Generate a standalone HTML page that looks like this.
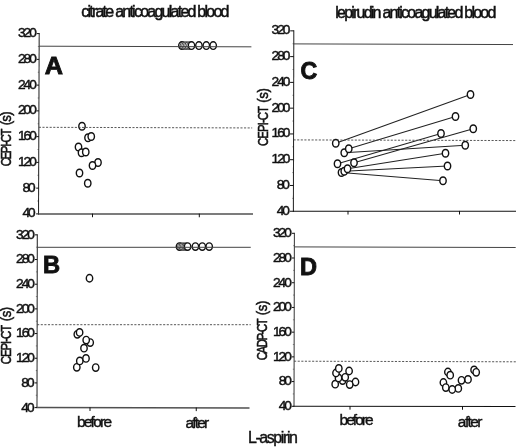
<!DOCTYPE html>
<html><head><meta charset="utf-8"><title>Figure</title>
<style>
html,body{margin:0;padding:0;background:#fff;}
body{width:520px;height:447px;overflow:hidden;font-family:"Liberation Sans",sans-serif;}
svg{display:block;font-family:"Liberation Sans",sans-serif;filter:blur(0.35px);}
text{white-space:pre;}
</style></head><body>
<svg width="520" height="447" viewBox="0 0 520 447">
<rect width="520" height="447" fill="#fff"/>
<ellipse cx="82.00" cy="126.25" rx="3.2" ry="3.8" fill="#fff" stroke="#111" stroke-width="1.4"/>
<ellipse cx="88.00" cy="137.75" rx="3.2" ry="3.8" fill="#fff" stroke="#111" stroke-width="1.4"/>
<ellipse cx="91.25" cy="136.50" rx="3.2" ry="3.8" fill="#fff" stroke="#111" stroke-width="1.4"/>
<ellipse cx="78.50" cy="147.00" rx="3.2" ry="3.8" fill="#fff" stroke="#111" stroke-width="1.4"/>
<ellipse cx="81.50" cy="152.75" rx="3.2" ry="3.8" fill="#fff" stroke="#111" stroke-width="1.4"/>
<ellipse cx="85.75" cy="152.00" rx="3.2" ry="3.8" fill="#fff" stroke="#111" stroke-width="1.4"/>
<ellipse cx="98.00" cy="162.50" rx="3.2" ry="3.8" fill="#fff" stroke="#111" stroke-width="1.4"/>
<ellipse cx="92.50" cy="165.50" rx="3.2" ry="3.8" fill="#fff" stroke="#111" stroke-width="1.4"/>
<ellipse cx="79.50" cy="173.00" rx="3.2" ry="3.8" fill="#fff" stroke="#111" stroke-width="1.4"/>
<ellipse cx="87.75" cy="183.25" rx="3.2" ry="3.8" fill="#fff" stroke="#111" stroke-width="1.4"/>
<ellipse cx="181.90" cy="45.60" rx="3.2" ry="3.8" fill="#fff" stroke="#111" stroke-width="1.4"/>
<ellipse cx="183.50" cy="45.60" rx="3.2" ry="3.8" fill="#fff" stroke="#111" stroke-width="0.8"/>
<ellipse cx="185.00" cy="45.60" rx="3.2" ry="3.8" fill="#fff" stroke="#111" stroke-width="0.8"/>
<ellipse cx="186.60" cy="45.60" rx="3.2" ry="3.8" fill="#fff" stroke="#111" stroke-width="0.8"/>
<ellipse cx="188.10" cy="45.60" rx="3.2" ry="3.8" fill="#fff" stroke="#111" stroke-width="0.8"/>
<ellipse cx="189.80" cy="45.60" rx="3.2" ry="3.8" fill="#fff" stroke="#111" stroke-width="0.8"/>
<ellipse cx="191.50" cy="45.60" rx="3.2" ry="3.8" fill="#fff" stroke="#111" stroke-width="1.4"/>
<ellipse cx="198.90" cy="45.60" rx="3.2" ry="3.8" fill="#fff" stroke="#111" stroke-width="1.4"/>
<ellipse cx="206.30" cy="45.60" rx="3.2" ry="3.8" fill="#fff" stroke="#111" stroke-width="1.4"/>
<ellipse cx="213.20" cy="45.60" rx="3.2" ry="3.8" fill="#fff" stroke="#111" stroke-width="1.4"/>
<ellipse cx="95.70" cy="367.60" rx="3.2" ry="3.72" fill="#fff" stroke="#111" stroke-width="1.4"/>
<ellipse cx="76.80" cy="367.30" rx="3.2" ry="3.72" fill="#fff" stroke="#111" stroke-width="1.4"/>
<ellipse cx="79.80" cy="360.90" rx="3.2" ry="3.72" fill="#fff" stroke="#111" stroke-width="1.4"/>
<ellipse cx="86.00" cy="358.40" rx="3.2" ry="3.72" fill="#fff" stroke="#111" stroke-width="1.4"/>
<ellipse cx="84.00" cy="348.20" rx="3.2" ry="3.72" fill="#fff" stroke="#111" stroke-width="1.4"/>
<ellipse cx="90.20" cy="342.60" rx="3.2" ry="3.72" fill="#fff" stroke="#111" stroke-width="1.4"/>
<ellipse cx="86.20" cy="340.10" rx="3.2" ry="3.72" fill="#fff" stroke="#111" stroke-width="1.4"/>
<ellipse cx="77.30" cy="334.30" rx="3.2" ry="3.72" fill="#fff" stroke="#111" stroke-width="1.4"/>
<ellipse cx="79.60" cy="332.40" rx="3.2" ry="3.72" fill="#fff" stroke="#111" stroke-width="1.4"/>
<ellipse cx="89.50" cy="278.25" rx="3.2" ry="3.72" fill="#fff" stroke="#111" stroke-width="1.4"/>
<ellipse cx="179.50" cy="246.60" rx="3.2" ry="3.72" fill="#fff" stroke="#111" stroke-width="1.4"/>
<ellipse cx="180.80" cy="246.60" rx="3.2" ry="3.72" fill="#fff" stroke="#111" stroke-width="0.75"/>
<ellipse cx="182.20" cy="246.60" rx="3.2" ry="3.72" fill="#fff" stroke="#111" stroke-width="0.75"/>
<ellipse cx="183.60" cy="246.60" rx="3.2" ry="3.72" fill="#fff" stroke="#111" stroke-width="0.75"/>
<ellipse cx="185.00" cy="246.60" rx="3.2" ry="3.72" fill="#fff" stroke="#111" stroke-width="0.75"/>
<ellipse cx="186.30" cy="246.60" rx="3.2" ry="3.72" fill="#fff" stroke="#111" stroke-width="0.75"/>
<ellipse cx="187.60" cy="246.60" rx="3.2" ry="3.72" fill="#fff" stroke="#111" stroke-width="1.4"/>
<ellipse cx="195.40" cy="246.60" rx="3.2" ry="3.72" fill="#fff" stroke="#111" stroke-width="1.4"/>
<ellipse cx="202.30" cy="246.60" rx="3.2" ry="3.72" fill="#fff" stroke="#111" stroke-width="1.4"/>
<ellipse cx="209.20" cy="246.60" rx="3.2" ry="3.72" fill="#fff" stroke="#111" stroke-width="1.4"/>
<line x1="335.75" y1="143.25" x2="470.50" y2="94.50" stroke="#222" stroke-width="1.05"/>
<line x1="348.75" y1="148.75" x2="455.50" y2="116.50" stroke="#222" stroke-width="1.05"/>
<line x1="344.25" y1="152.75" x2="465.25" y2="145.25" stroke="#222" stroke-width="1.05"/>
<line x1="337.50" y1="163.75" x2="441.00" y2="133.50" stroke="#222" stroke-width="1.05"/>
<line x1="354.00" y1="162.75" x2="473.25" y2="128.75" stroke="#222" stroke-width="1.05"/>
<line x1="347.50" y1="168.75" x2="445.50" y2="153.25" stroke="#222" stroke-width="1.05"/>
<line x1="344.25" y1="171.25" x2="447.50" y2="166.00" stroke="#222" stroke-width="1.05"/>
<line x1="341.50" y1="172.50" x2="443.00" y2="180.75" stroke="#222" stroke-width="1.05"/>
<ellipse cx="341.50" cy="172.50" rx="3.2" ry="3.8" fill="#fff" stroke="#111" stroke-width="1.4"/>
<ellipse cx="344.25" cy="171.25" rx="3.2" ry="3.8" fill="#fff" stroke="#111" stroke-width="1.4"/>
<ellipse cx="347.50" cy="168.75" rx="3.2" ry="3.8" fill="#fff" stroke="#111" stroke-width="1.4"/>
<ellipse cx="354.00" cy="162.75" rx="3.2" ry="3.8" fill="#fff" stroke="#111" stroke-width="1.4"/>
<ellipse cx="337.50" cy="163.75" rx="3.2" ry="3.8" fill="#fff" stroke="#111" stroke-width="1.4"/>
<ellipse cx="344.25" cy="152.75" rx="3.2" ry="3.8" fill="#fff" stroke="#111" stroke-width="1.4"/>
<ellipse cx="348.75" cy="148.75" rx="3.2" ry="3.8" fill="#fff" stroke="#111" stroke-width="1.4"/>
<ellipse cx="335.75" cy="143.25" rx="3.2" ry="3.8" fill="#fff" stroke="#111" stroke-width="1.4"/>
<ellipse cx="470.50" cy="94.50" rx="3.2" ry="3.8" fill="#fff" stroke="#111" stroke-width="1.4"/>
<ellipse cx="455.50" cy="116.50" rx="3.2" ry="3.8" fill="#fff" stroke="#111" stroke-width="1.4"/>
<ellipse cx="465.25" cy="145.25" rx="3.2" ry="3.8" fill="#fff" stroke="#111" stroke-width="1.4"/>
<ellipse cx="441.00" cy="133.50" rx="3.2" ry="3.8" fill="#fff" stroke="#111" stroke-width="1.4"/>
<ellipse cx="473.25" cy="128.75" rx="3.2" ry="3.8" fill="#fff" stroke="#111" stroke-width="1.4"/>
<ellipse cx="445.50" cy="153.25" rx="3.2" ry="3.8" fill="#fff" stroke="#111" stroke-width="1.4"/>
<ellipse cx="447.50" cy="166.00" rx="3.2" ry="3.8" fill="#fff" stroke="#111" stroke-width="1.4"/>
<ellipse cx="443.00" cy="180.75" rx="3.2" ry="3.8" fill="#fff" stroke="#111" stroke-width="1.4"/>
<ellipse cx="355.50" cy="382.00" rx="3.2" ry="3.72" fill="#fff" stroke="#111" stroke-width="1.4"/>
<ellipse cx="335.20" cy="384.20" rx="3.2" ry="3.72" fill="#fff" stroke="#111" stroke-width="1.4"/>
<ellipse cx="349.70" cy="384.60" rx="3.2" ry="3.72" fill="#fff" stroke="#111" stroke-width="1.4"/>
<ellipse cx="342.60" cy="380.60" rx="3.2" ry="3.72" fill="#fff" stroke="#111" stroke-width="1.4"/>
<ellipse cx="338.50" cy="377.90" rx="3.2" ry="3.72" fill="#fff" stroke="#111" stroke-width="1.4"/>
<ellipse cx="345.20" cy="377.30" rx="3.2" ry="3.72" fill="#fff" stroke="#111" stroke-width="1.4"/>
<ellipse cx="336.00" cy="373.00" rx="3.2" ry="3.72" fill="#fff" stroke="#111" stroke-width="1.4"/>
<ellipse cx="349.10" cy="371.00" rx="3.2" ry="3.72" fill="#fff" stroke="#111" stroke-width="1.4"/>
<ellipse cx="338.80" cy="368.40" rx="3.2" ry="3.72" fill="#fff" stroke="#111" stroke-width="1.4"/>
<ellipse cx="447.90" cy="372.00" rx="3.2" ry="3.72" fill="#fff" stroke="#111" stroke-width="1.4"/>
<ellipse cx="450.20" cy="375.20" rx="3.2" ry="3.72" fill="#fff" stroke="#111" stroke-width="1.4"/>
<ellipse cx="474.10" cy="369.90" rx="3.2" ry="3.72" fill="#fff" stroke="#111" stroke-width="1.4"/>
<ellipse cx="476.20" cy="372.30" rx="3.2" ry="3.72" fill="#fff" stroke="#111" stroke-width="1.4"/>
<ellipse cx="468.00" cy="379.40" rx="3.2" ry="3.72" fill="#fff" stroke="#111" stroke-width="1.4"/>
<ellipse cx="461.50" cy="380.30" rx="3.2" ry="3.72" fill="#fff" stroke="#111" stroke-width="1.4"/>
<ellipse cx="443.40" cy="382.50" rx="3.2" ry="3.72" fill="#fff" stroke="#111" stroke-width="1.4"/>
<ellipse cx="445.80" cy="387.60" rx="3.2" ry="3.72" fill="#fff" stroke="#111" stroke-width="1.4"/>
<ellipse cx="458.30" cy="388.40" rx="3.2" ry="3.72" fill="#fff" stroke="#111" stroke-width="1.4"/>
<ellipse cx="452.20" cy="389.50" rx="3.2" ry="3.72" fill="#fff" stroke="#111" stroke-width="1.4"/>
<line x1="39.20" y1="33.10" x2="38.50" y2="214.40" stroke="#2a2a2a" stroke-width="1.05"/>
<line x1="38.00" y1="213.90" x2="253.00" y2="214.00" stroke="#505050" stroke-width="1.5"/>
<line x1="36.10" y1="213.90" x2="38.50" y2="213.90" stroke="#111" stroke-width="1.0"/>
<g transform="translate(22.83 217.30) scale(1.0000 1)"><text x="-0.30" y="0" font-size="13.7" letter-spacing="-2.025" stroke="#111" stroke-width="0.45" stroke-linejoin="miter" fill="#111">40</text></g>
<line x1="36.20" y1="188.14" x2="38.60" y2="188.14" stroke="#111" stroke-width="1.0"/>
<g transform="translate(23.08 191.54) scale(1.0000 1)"><text x="-0.55" y="0" font-size="13.7" letter-spacing="-2.025" stroke="#111" stroke-width="0.45" stroke-linejoin="miter" fill="#111">80</text></g>
<line x1="36.30" y1="162.39" x2="38.70" y2="162.39" stroke="#111" stroke-width="1.0"/>
<g transform="translate(19.00 165.79) scale(1.0000 1)"><text x="-1.00" y="0" font-size="13.7" letter-spacing="-2.025" stroke="#111" stroke-width="0.45" stroke-linejoin="miter" fill="#111">120</text></g>
<line x1="36.40" y1="136.63" x2="38.80" y2="136.63" stroke="#111" stroke-width="1.0"/>
<g transform="translate(19.00 140.03) scale(1.0000 1)"><text x="-1.00" y="0" font-size="13.7" letter-spacing="-2.025" stroke="#111" stroke-width="0.45" stroke-linejoin="miter" fill="#111">160</text></g>
<line x1="36.50" y1="110.87" x2="38.90" y2="110.87" stroke="#111" stroke-width="1.0"/>
<g transform="translate(18.65 114.27) scale(1.0000 1)"><text x="-0.65" y="0" font-size="13.7" letter-spacing="-2.025" stroke="#111" stroke-width="0.45" stroke-linejoin="miter" fill="#111">200</text></g>
<line x1="36.60" y1="85.11" x2="39.00" y2="85.11" stroke="#111" stroke-width="1.0"/>
<g transform="translate(18.65 88.51) scale(1.0000 1)"><text x="-0.65" y="0" font-size="13.7" letter-spacing="-2.025" stroke="#111" stroke-width="0.45" stroke-linejoin="miter" fill="#111">240</text></g>
<line x1="36.70" y1="59.36" x2="39.10" y2="59.36" stroke="#111" stroke-width="1.0"/>
<g transform="translate(18.65 62.76) scale(1.0000 1)"><text x="-0.65" y="0" font-size="13.7" letter-spacing="-2.025" stroke="#111" stroke-width="0.45" stroke-linejoin="miter" fill="#111">280</text></g>
<line x1="36.80" y1="33.60" x2="39.20" y2="33.60" stroke="#111" stroke-width="1.0"/>
<g transform="translate(18.50 37.00) scale(1.0000 1)"><text x="-0.50" y="0" font-size="13.7" letter-spacing="-2.025" stroke="#111" stroke-width="0.45" stroke-linejoin="miter" fill="#111">320</text></g>
<line x1="37.25" y1="201.02" x2="38.55" y2="201.02" stroke="#111" stroke-width="0.8" stroke-opacity="0.5"/>
<line x1="37.35" y1="175.26" x2="38.65" y2="175.26" stroke="#111" stroke-width="0.8" stroke-opacity="0.5"/>
<line x1="37.45" y1="149.51" x2="38.75" y2="149.51" stroke="#111" stroke-width="0.8" stroke-opacity="0.5"/>
<line x1="37.55" y1="123.75" x2="38.85" y2="123.75" stroke="#111" stroke-width="0.8" stroke-opacity="0.5"/>
<line x1="37.65" y1="97.99" x2="38.95" y2="97.99" stroke="#111" stroke-width="0.8" stroke-opacity="0.5"/>
<line x1="37.75" y1="72.24" x2="39.05" y2="72.24" stroke="#111" stroke-width="0.8" stroke-opacity="0.5"/>
<line x1="37.85" y1="46.48" x2="39.15" y2="46.48" stroke="#111" stroke-width="0.8" stroke-opacity="0.5"/>
<line x1="92.50" y1="213.63" x2="92.50" y2="217.23" stroke="#111" stroke-width="1.0"/>
<line x1="199.30" y1="213.67" x2="199.30" y2="217.27" stroke="#111" stroke-width="1.0"/>
<line x1="39.15" y1="46.20" x2="251.40" y2="46.84" stroke="#444" stroke-width="1.0"/>
<line x1="38.84" y1="127.30" x2="252.20" y2="127.94" stroke="#444" stroke-width="0.9" stroke-dasharray="2.1 1.5"/>
<g transform="translate(45.45 74.25) scale(1.0180 1)"><text x="-0.60" y="0" font-size="24.8" letter-spacing="0.000" font-weight="bold" stroke="#111" stroke-width="0.9" stroke-linejoin="miter" fill="#111">A</text></g>
<g transform="translate(11.30 165.80) rotate(-90) scale(0.78 1)"><text x="-0.70" y="0" font-size="14.5" letter-spacing="-1.615" stroke="#111" stroke-width="0.55" fill="#111">CEPI-CT</text></g>
<g transform="translate(11.30 124.60) rotate(-90) scale(0.9 1)"><text x="-0.85" y="0" font-size="14.5" letter-spacing="-0.711" stroke="#111" stroke-width="0.55" fill="#111">(s)</text></g>
<line x1="37.30" y1="234.35" x2="37.00" y2="408.10" stroke="#2a2a2a" stroke-width="1.05"/>
<line x1="36.50" y1="407.60" x2="249.50" y2="407.90" stroke="#505050" stroke-width="1.5"/>
<line x1="34.60" y1="407.60" x2="37.00" y2="407.60" stroke="#111" stroke-width="1.0"/>
<g transform="translate(21.62 411.50) scale(1.0000 1)"><text x="-0.30" y="0" font-size="13.7" letter-spacing="-2.025" stroke="#111" stroke-width="0.45" stroke-linejoin="miter" fill="#111">40</text></g>
<line x1="34.64" y1="382.92" x2="37.04" y2="382.92" stroke="#111" stroke-width="1.0"/>
<g transform="translate(21.88 386.82) scale(1.0000 1)"><text x="-0.55" y="0" font-size="13.7" letter-spacing="-2.025" stroke="#111" stroke-width="0.45" stroke-linejoin="miter" fill="#111">80</text></g>
<line x1="34.69" y1="358.24" x2="37.09" y2="358.24" stroke="#111" stroke-width="1.0"/>
<g transform="translate(17.10 362.14) scale(1.0000 1)"><text x="-1.00" y="0" font-size="13.7" letter-spacing="-2.025" stroke="#111" stroke-width="0.45" stroke-linejoin="miter" fill="#111">120</text></g>
<line x1="34.73" y1="333.56" x2="37.13" y2="333.56" stroke="#111" stroke-width="1.0"/>
<g transform="translate(17.10 337.46) scale(1.0000 1)"><text x="-1.00" y="0" font-size="13.7" letter-spacing="-2.025" stroke="#111" stroke-width="0.45" stroke-linejoin="miter" fill="#111">160</text></g>
<line x1="34.77" y1="308.89" x2="37.17" y2="308.89" stroke="#111" stroke-width="1.0"/>
<g transform="translate(16.75 312.79) scale(1.0000 1)"><text x="-0.65" y="0" font-size="13.7" letter-spacing="-2.025" stroke="#111" stroke-width="0.45" stroke-linejoin="miter" fill="#111">200</text></g>
<line x1="34.81" y1="284.21" x2="37.21" y2="284.21" stroke="#111" stroke-width="1.0"/>
<g transform="translate(16.75 288.11) scale(1.0000 1)"><text x="-0.65" y="0" font-size="13.7" letter-spacing="-2.025" stroke="#111" stroke-width="0.45" stroke-linejoin="miter" fill="#111">240</text></g>
<line x1="34.86" y1="259.53" x2="37.26" y2="259.53" stroke="#111" stroke-width="1.0"/>
<g transform="translate(16.75 263.43) scale(1.0000 1)"><text x="-0.65" y="0" font-size="13.7" letter-spacing="-2.025" stroke="#111" stroke-width="0.45" stroke-linejoin="miter" fill="#111">280</text></g>
<line x1="34.90" y1="234.85" x2="37.30" y2="234.85" stroke="#111" stroke-width="1.0"/>
<g transform="translate(16.60 238.75) scale(1.0000 1)"><text x="-0.50" y="0" font-size="13.7" letter-spacing="-2.025" stroke="#111" stroke-width="0.45" stroke-linejoin="miter" fill="#111">320</text></g>
<line x1="35.72" y1="395.26" x2="37.02" y2="395.26" stroke="#111" stroke-width="0.8" stroke-opacity="0.5"/>
<line x1="35.76" y1="370.58" x2="37.06" y2="370.58" stroke="#111" stroke-width="0.8" stroke-opacity="0.5"/>
<line x1="35.81" y1="345.90" x2="37.11" y2="345.90" stroke="#111" stroke-width="0.8" stroke-opacity="0.5"/>
<line x1="35.85" y1="321.23" x2="37.15" y2="321.23" stroke="#111" stroke-width="0.8" stroke-opacity="0.5"/>
<line x1="35.89" y1="296.55" x2="37.19" y2="296.55" stroke="#111" stroke-width="0.8" stroke-opacity="0.5"/>
<line x1="35.94" y1="271.87" x2="37.24" y2="271.87" stroke="#111" stroke-width="0.8" stroke-opacity="0.5"/>
<line x1="35.98" y1="247.19" x2="37.28" y2="247.19" stroke="#111" stroke-width="0.8" stroke-opacity="0.5"/>
<line x1="90.00" y1="407.37" x2="90.00" y2="410.97" stroke="#111" stroke-width="1.0"/>
<line x1="196.25" y1="407.52" x2="196.25" y2="411.12" stroke="#111" stroke-width="1.0"/>
<line x1="37.28" y1="247.30" x2="250.75" y2="247.30" stroke="#444" stroke-width="1.0"/>
<line x1="37.14" y1="324.70" x2="250.75" y2="324.70" stroke="#444" stroke-width="0.9" stroke-dasharray="2.1 1.5"/>
<g transform="translate(44.55 272.60) scale(0.9571 1)"><text x="-1.65" y="0" font-size="24.8" letter-spacing="0.000" font-weight="bold" stroke="#111" stroke-width="0.9" stroke-linejoin="miter" fill="#111">B</text></g>
<g transform="translate(10.80 363.80) rotate(-90) scale(0.78 1)"><text x="-0.70" y="0" font-size="14.5" letter-spacing="-1.209" stroke="#111" stroke-width="0.55" fill="#111">CEPI-CT</text></g>
<g transform="translate(10.80 320.60) rotate(-90) scale(0.9 1)"><text x="-0.85" y="0" font-size="14.5" letter-spacing="-0.378" stroke="#111" stroke-width="0.55" fill="#111">(s)</text></g>
<line x1="293.80" y1="30.35" x2="293.40" y2="211.75" stroke="#2a2a2a" stroke-width="1.05"/>
<line x1="292.90" y1="211.25" x2="516.00" y2="211.20" stroke="#111" stroke-width="1.1"/>
<line x1="289.80" y1="211.25" x2="293.40" y2="211.25" stroke="#111" stroke-width="1.0"/>
<g transform="translate(276.93 214.65) scale(1.0000 1)"><text x="-0.30" y="0" font-size="13.7" letter-spacing="-2.025" stroke="#111" stroke-width="0.45" stroke-linejoin="miter" fill="#111">40</text></g>
<line x1="289.86" y1="185.48" x2="293.46" y2="185.48" stroke="#111" stroke-width="1.0"/>
<g transform="translate(277.18 188.88) scale(1.0000 1)"><text x="-0.55" y="0" font-size="13.7" letter-spacing="-2.025" stroke="#111" stroke-width="0.45" stroke-linejoin="miter" fill="#111">80</text></g>
<line x1="289.91" y1="159.71" x2="293.51" y2="159.71" stroke="#111" stroke-width="1.0"/>
<g transform="translate(272.60 163.11) scale(1.0000 1)"><text x="-1.00" y="0" font-size="13.7" letter-spacing="-2.025" stroke="#111" stroke-width="0.45" stroke-linejoin="miter" fill="#111">120</text></g>
<line x1="289.97" y1="133.94" x2="293.57" y2="133.94" stroke="#111" stroke-width="1.0"/>
<g transform="translate(272.60 137.34) scale(1.0000 1)"><text x="-1.00" y="0" font-size="13.7" letter-spacing="-2.025" stroke="#111" stroke-width="0.45" stroke-linejoin="miter" fill="#111">160</text></g>
<line x1="290.03" y1="108.16" x2="293.63" y2="108.16" stroke="#111" stroke-width="1.0"/>
<g transform="translate(272.25 111.56) scale(1.0000 1)"><text x="-0.65" y="0" font-size="13.7" letter-spacing="-2.025" stroke="#111" stroke-width="0.45" stroke-linejoin="miter" fill="#111">200</text></g>
<line x1="290.09" y1="82.39" x2="293.69" y2="82.39" stroke="#111" stroke-width="1.0"/>
<g transform="translate(272.25 85.79) scale(1.0000 1)"><text x="-0.65" y="0" font-size="13.7" letter-spacing="-2.025" stroke="#111" stroke-width="0.45" stroke-linejoin="miter" fill="#111">240</text></g>
<line x1="290.14" y1="56.62" x2="293.74" y2="56.62" stroke="#111" stroke-width="1.0"/>
<g transform="translate(272.25 60.02) scale(1.0000 1)"><text x="-0.65" y="0" font-size="13.7" letter-spacing="-2.025" stroke="#111" stroke-width="0.45" stroke-linejoin="miter" fill="#111">280</text></g>
<line x1="290.20" y1="30.85" x2="293.80" y2="30.85" stroke="#111" stroke-width="1.0"/>
<g transform="translate(272.10 34.25) scale(1.0000 1)"><text x="-0.50" y="0" font-size="13.7" letter-spacing="-2.025" stroke="#111" stroke-width="0.45" stroke-linejoin="miter" fill="#111">320</text></g>
<line x1="292.13" y1="198.36" x2="293.43" y2="198.36" stroke="#111" stroke-width="0.8" stroke-opacity="0.5"/>
<line x1="292.19" y1="172.59" x2="293.49" y2="172.59" stroke="#111" stroke-width="0.8" stroke-opacity="0.5"/>
<line x1="292.24" y1="146.82" x2="293.54" y2="146.82" stroke="#111" stroke-width="0.8" stroke-opacity="0.5"/>
<line x1="292.30" y1="121.05" x2="293.60" y2="121.05" stroke="#111" stroke-width="0.8" stroke-opacity="0.5"/>
<line x1="292.36" y1="95.28" x2="293.66" y2="95.28" stroke="#111" stroke-width="0.8" stroke-opacity="0.5"/>
<line x1="292.41" y1="69.51" x2="293.71" y2="69.51" stroke="#111" stroke-width="0.8" stroke-opacity="0.5"/>
<line x1="292.47" y1="43.74" x2="293.77" y2="43.74" stroke="#111" stroke-width="0.8" stroke-opacity="0.5"/>
<line x1="348.00" y1="210.94" x2="348.00" y2="214.54" stroke="#111" stroke-width="1.0"/>
<line x1="459.50" y1="210.91" x2="459.50" y2="214.51" stroke="#111" stroke-width="1.0"/>
<line x1="293.77" y1="43.90" x2="513.00" y2="44.56" stroke="#444" stroke-width="1.0"/>
<line x1="293.56" y1="139.90" x2="515.50" y2="140.57" stroke="#444" stroke-width="0.9" stroke-dasharray="2.1 1.5"/>
<g transform="translate(301.45 78.90) scale(0.9354 1)"><text x="-1.00" y="0" font-size="24.8" letter-spacing="0.000" font-weight="bold" stroke="#111" stroke-width="0.9" stroke-linejoin="miter" fill="#111">C</text></g>
<g transform="translate(267.60 145.40) rotate(-90) scale(0.78 1)"><text x="-0.70" y="0" font-size="14.5" letter-spacing="-1.124" stroke="#111" stroke-width="0.55" fill="#111">CEPI-CT</text></g>
<g transform="translate(267.60 102.00) rotate(-90) scale(0.9 1)"><text x="-0.85" y="0" font-size="14.5" letter-spacing="-0.378" stroke="#111" stroke-width="0.55" fill="#111">(s)</text></g>
<line x1="294.40" y1="232.80" x2="294.00" y2="406.80" stroke="#2a2a2a" stroke-width="0.95"/>
<line x1="293.50" y1="406.30" x2="515.50" y2="406.50" stroke="#111" stroke-width="1.1"/>
<line x1="291.60" y1="406.30" x2="294.00" y2="406.30" stroke="#111" stroke-width="1.0"/>
<g transform="translate(278.93 410.20) scale(1.0000 1)"><text x="-0.30" y="0" font-size="13.7" letter-spacing="-2.025" stroke="#111" stroke-width="0.45" stroke-linejoin="miter" fill="#111">40</text></g>
<line x1="291.66" y1="381.59" x2="294.06" y2="381.59" stroke="#111" stroke-width="1.0"/>
<g transform="translate(279.18 385.49) scale(1.0000 1)"><text x="-0.55" y="0" font-size="13.7" letter-spacing="-2.025" stroke="#111" stroke-width="0.45" stroke-linejoin="miter" fill="#111">80</text></g>
<line x1="291.71" y1="356.87" x2="294.11" y2="356.87" stroke="#111" stroke-width="1.0"/>
<g transform="translate(274.00 360.77) scale(1.0000 1)"><text x="-1.00" y="0" font-size="13.7" letter-spacing="-2.025" stroke="#111" stroke-width="0.45" stroke-linejoin="miter" fill="#111">120</text></g>
<line x1="291.77" y1="332.16" x2="294.17" y2="332.16" stroke="#111" stroke-width="1.0"/>
<g transform="translate(274.00 336.06) scale(1.0000 1)"><text x="-1.00" y="0" font-size="13.7" letter-spacing="-2.025" stroke="#111" stroke-width="0.45" stroke-linejoin="miter" fill="#111">160</text></g>
<line x1="291.83" y1="307.44" x2="294.23" y2="307.44" stroke="#111" stroke-width="1.0"/>
<g transform="translate(273.65 311.34) scale(1.0000 1)"><text x="-0.65" y="0" font-size="13.7" letter-spacing="-2.025" stroke="#111" stroke-width="0.45" stroke-linejoin="miter" fill="#111">200</text></g>
<line x1="291.89" y1="282.73" x2="294.29" y2="282.73" stroke="#111" stroke-width="1.0"/>
<g transform="translate(273.65 286.63) scale(1.0000 1)"><text x="-0.65" y="0" font-size="13.7" letter-spacing="-2.025" stroke="#111" stroke-width="0.45" stroke-linejoin="miter" fill="#111">240</text></g>
<line x1="291.94" y1="258.01" x2="294.34" y2="258.01" stroke="#111" stroke-width="1.0"/>
<g transform="translate(273.65 261.91) scale(1.0000 1)"><text x="-0.65" y="0" font-size="13.7" letter-spacing="-2.025" stroke="#111" stroke-width="0.45" stroke-linejoin="miter" fill="#111">280</text></g>
<line x1="292.00" y1="233.30" x2="294.40" y2="233.30" stroke="#111" stroke-width="1.0"/>
<g transform="translate(273.50 237.20) scale(1.0000 1)"><text x="-0.50" y="0" font-size="13.7" letter-spacing="-2.025" stroke="#111" stroke-width="0.45" stroke-linejoin="miter" fill="#111">320</text></g>
<line x1="292.73" y1="393.94" x2="294.03" y2="393.94" stroke="#111" stroke-width="0.8" stroke-opacity="0.5"/>
<line x1="292.79" y1="369.23" x2="294.09" y2="369.23" stroke="#111" stroke-width="0.8" stroke-opacity="0.5"/>
<line x1="292.84" y1="344.51" x2="294.14" y2="344.51" stroke="#111" stroke-width="0.8" stroke-opacity="0.5"/>
<line x1="292.90" y1="319.80" x2="294.20" y2="319.80" stroke="#111" stroke-width="0.8" stroke-opacity="0.5"/>
<line x1="292.96" y1="295.09" x2="294.26" y2="295.09" stroke="#111" stroke-width="0.8" stroke-opacity="0.5"/>
<line x1="293.01" y1="270.37" x2="294.31" y2="270.37" stroke="#111" stroke-width="0.8" stroke-opacity="0.5"/>
<line x1="293.07" y1="245.66" x2="294.37" y2="245.66" stroke="#111" stroke-width="0.8" stroke-opacity="0.5"/>
<line x1="350.00" y1="406.05" x2="350.00" y2="409.65" stroke="#111" stroke-width="1.0"/>
<line x1="462.50" y1="406.15" x2="462.50" y2="409.75" stroke="#111" stroke-width="1.0"/>
<line x1="294.37" y1="246.90" x2="515.70" y2="247.50" stroke="#444" stroke-width="1.0"/>
<line x1="294.10" y1="361.20" x2="516.00" y2="361.80" stroke="#444" stroke-width="0.9" stroke-dasharray="2.1 1.5"/>
<g transform="translate(301.45 274.95) scale(0.9508 1)"><text x="-1.65" y="0" font-size="24.8" letter-spacing="0.000" font-weight="bold" stroke="#111" stroke-width="0.9" stroke-linejoin="miter" fill="#111">D</text></g>
<g transform="translate(267.20 359.60) rotate(-90) scale(0.78 1)"><text x="-0.70" y="0" font-size="14.5" letter-spacing="-1.814" stroke="#111" stroke-width="0.55" fill="#111">CADP-CT</text></g>
<g transform="translate(267.20 314.60) rotate(-90) scale(0.9 1)"><text x="-0.85" y="0" font-size="14.5" letter-spacing="-0.267" stroke="#111" stroke-width="0.55" fill="#111">(s)</text></g>
<g transform="translate(81.80 17.40) scale(1.0000 1)"><text x="-0.65" y="0" font-size="16" letter-spacing="-1.754" stroke="#111" stroke-width="0.5" stroke-linejoin="miter" fill="#111">citrate anticoagulated blood</text></g>
<g transform="translate(336.30 18.30) scale(1.0000 1)"><text x="-1.05" y="0" font-size="16" letter-spacing="-1.778" stroke="#111" stroke-width="0.5" stroke-linejoin="miter" fill="#111">lepirudin anticoagulated blood</text></g>
<g transform="translate(77.90 426.80) scale(1.0000 1)"><text x="-1.00" y="0" font-size="15.5" letter-spacing="-1.760" stroke="#111" stroke-width="0.4" stroke-linejoin="miter" fill="#111">before</text></g>
<g transform="translate(186.20 427.60) scale(1.0000 1)"><text x="-0.65" y="0" font-size="15.5" letter-spacing="-1.837" stroke="#111" stroke-width="0.4" stroke-linejoin="miter" fill="#111">after</text></g>
<g transform="translate(340.50 425.10) scale(1.0000 1)"><text x="-1.00" y="0" font-size="15.5" letter-spacing="-1.960" stroke="#111" stroke-width="0.4" stroke-linejoin="miter" fill="#111">before</text></g>
<g transform="translate(458.50 426.50) scale(1.0000 1)"><text x="-0.65" y="0" font-size="15.5" letter-spacing="-1.587" stroke="#111" stroke-width="0.4" stroke-linejoin="miter" fill="#111">after</text></g>
<g transform="translate(249.20 442.80) scale(1.0000 1)"><text x="-1.30" y="0" font-size="16" letter-spacing="-1.419" stroke="#111" stroke-width="0.4" stroke-linejoin="miter" fill="#111">L-aspirin</text></g>
</svg>
</body></html>
